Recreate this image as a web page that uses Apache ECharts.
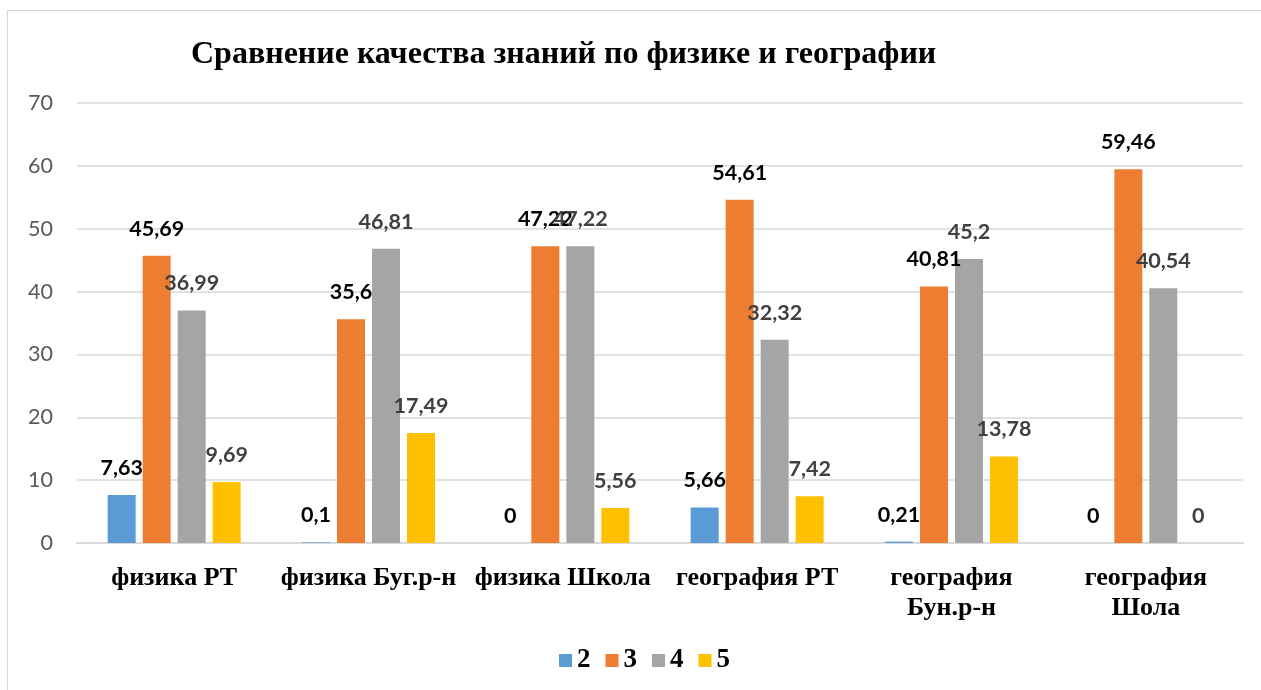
<!DOCTYPE html>
<html>
<head>
<meta charset="utf-8">
<script src="https://cdn.jsdelivr.net/npm/echarts@6/dist/echarts.min.js"></script>
<style>
  html, body { margin: 0; padding: 0; background: #fff; }
  #frame { position: absolute; left: 7px; top: 10px; width: 1260px; height: 690px; border: 1px solid #d9d9d9; box-sizing: border-box; }
  #chart { position: absolute; left: 0; top: 0; width: 1261px; height: 690px; }
</style>
</head>
<body>
<div id="frame"></div>
<div id="chart"></div>
<script>
// категории и значения по отметкам
const categories = ['физика РТ', 'физика Буг.р-н', 'физика Школа', 'география РТ', 'география\nБун.р-н', 'география\nШола'];
const grade2 = [7.63, 0.1, 0, 5.66, 0.21, 0];
const grade3 = [45.69, 35.6, 47.22, 54.61, 40.81, 59.46];
const grade4 = [36.99, 46.81, 47.22, 32.32, 45.2, 40.54];
const grade5 = [9.69, 17.49, 5.56, 7.42, 13.78, 0];

const serif = '"Liberation Serif", "Times New Roman", serif';
const sans = 'Lato, "Open Sans", sans-serif';

function makeSeries(name, data, color, labelColor) {
  return {
    name: name,
    type: 'bar',
    data: data,
    barWidth: 28,
    barGap: '25%',
    itemStyle: { color: color },
    label: {
      show: true,
      position: 'top',
      distance: 16,
      color: labelColor,
      fontFamily: sans,
      fontWeight: 'bold',
      fontSize: 21.5,
      formatter: p => String(p.value).replace('.', ',')
    }
  }
}

var myChart = echarts.init(document.getElementById('chart'));
myChart.setOption({
  animation: false,
  title: {
    text: 'Сравнение качества знаний по физике и географии',
    left: 186,
    top: 34,
    textStyle: { fontFamily: serif, fontWeight: 'bold', fontSize: 32, color: '#000' }
  },
  legend: {
    bottom: 11,
    left: 554,
    itemWidth: 13,
    itemHeight: 13,
    itemGap: 15,
    icon: 'rect',
    textStyle: { fontFamily: serif, fontWeight: 'bold', fontSize: 27, color: '#000', padding: [0, 0, 0, 0] }
  },
  grid: { left: 77, right: 18, top: 103, bottom: 147 },
  xAxis: {
    type: 'category',
    data: categories,
    axisTick: { show: false },
    axisLine: { lineStyle: { color: '#d9d9d9', width: 2 } },
    axisLabel: {
      margin: 20,
      interval: 0,
      fontFamily: serif,
      fontWeight: 'bold',
      fontSize: 26,
      lineHeight: 30,
      color: '#000'
    }
  },
  yAxis: {
    type: 'value',
    min: 0,
    max: 70,
    interval: 10,
    axisLine: { show: false },
    axisTick: { show: false },
    splitLine: { lineStyle: { color: '#d9d9d9', width: 1.5 } },
    axisLabel: { margin: 24, fontFamily: sans, fontSize: 21.5, color: '#595959' }
  },
  series: [
    makeSeries('2', grade2, '#5b9bd5', '#000'),
    makeSeries('3', grade3, '#ed7d31', '#000'),
    makeSeries('4', grade4, '#a5a5a5', '#404040'),
    makeSeries('5', grade5, '#ffc000', '#404040')
  ]
});
</script>
</body>
</html>
